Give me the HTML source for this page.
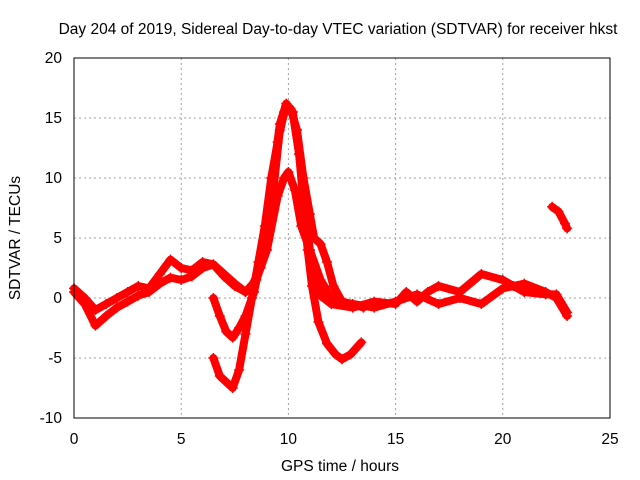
<!DOCTYPE html>
<html><head><meta charset="utf-8"><style>
body{margin:0;background:#fff}
svg{display:block;font-family:"Liberation Sans",sans-serif}
</style></head><body>
<svg id="chart" width="640" height="480">
<text x="338" y="34" font-size="15.5" text-anchor="middle">Day 204 of 2019, Sidereal Day-to-day VTEC variation (SDTVAR) for receiver hkst</text>
<text x="340" y="471" font-size="15.5" text-anchor="middle">GPS time / hours</text>
<text transform="translate(20,238) rotate(-90)" font-size="15.5" text-anchor="middle">SDTVAR / TECUs</text>
<g id="grid"></g>
<g id="ticks"></g>
<g id="series"></g>
<rect x="74" y="58" width="536" height="360" fill="none" stroke="#000" stroke-width="1"/>
</svg>
<script>
const xTicks=[0,5,10,15,20,25];
const yTicks=[-10,-5,0,5,10,15,20];
const track1=[[0,0.5],[0.5,-0.5],[1,-2.3],[1.5,-1.5],[2,-0.8],[2.5,-0.3],[3,0.2],[3.5,0.5],[4,1.2],[4.5,1.7],[5,1.5],[5.5,1.8],[6,2.5],[6.5,2.8],[7,2],[7.5,1.2],[8,0.5],[8.5,1.5],[9,4],[9.5,8.5],[9.8,10],[10,10.5],[10.3,9],[10.6,6],[11,4],[11.5,1.5],[12,0],[12.5,-0.5],[13,-0.5],[14,-0.8],[15,-0.3],[16,0.3],[17,-0.5],[18,0],[19,-0.5],[20,0.8],[21,1.2],[22,0.5],[22.5,0],[23,-1.5]];
const track2=[[0,0.8],[0.5,0],[1,-1],[1.5,-0.5],[2,0],[2.5,0.5],[3,1],[3.5,0.8],[4,2],[4.5,3.2],[5,2.5],[5.5,2.3],[6,3],[6.5,2.8],[7,1.8],[7.5,1],[8,0.5],[8.3,1],[8.7,2.5],[9,5],[9.3,9],[9.6,14],[9.9,16],[10.2,15.5],[10.5,12],[10.8,7],[11,4],[11.2,2],[11.5,0.2],[12,-0.5],[13,-0.8],[14,-0.3],[15,-0.5],[15.5,0.5],[16,-0.3],[16.5,0.5],[17,1],[18,0.5],[19,2],[20,1.5],[20.5,1],[21,0.5],[22,0.3],[22.5,0.3],[23,-1.2]];
const track3=[[6.5,0],[6.8,-1.5],[7.1,-2.8],[7.4,-3.3],[7.7,-2.5],[8,-1.5],[8.4,0.5],[8.8,4],[9.2,9],[9.6,14.5],[9.9,16.2],[10.2,15.5],[10.5,12],[10.7,8],[10.9,4],[11.1,1],[11.4,-2],[11.8,-3.8],[12.2,-4.7],[12.5,-5.1],[12.9,-4.7],[13.4,-3.7]];
const track4=[[6.5,-5],[6.8,-6.5],[7.1,-7],[7.4,-7.5],[7.7,-6],[8,-3],[8.3,0],[8.6,3],[8.9,6],[9.2,10],[9.5,13],[9.8,15.5],[10.1,15.8],[10.4,14],[10.7,10],[11,7],[11.2,5],[11.5,4.5],[11.8,3],[12.1,1],[12.5,-0.3],[13,-0.5],[13.5,-0.8]];
const track5=[[22.3,7.6],[22.6,7.2],[22.9,6.2],[23,5.8]];
const tracks=[track1,track2,track3,track4,track5];
const NS="http://www.w3.org/2000/svg";
const X=t=>74+t*536/25, Y=v=>418-(v+10)*12;
const grid=document.getElementById('grid'),ticks=document.getElementById('ticks'),ser=document.getElementById('series');
function mk(tag,attrs,parent){const e=document.createElementNS(NS,tag);for(const k in attrs)e.setAttribute(k,attrs[k]);parent.appendChild(e);return e;}
xTicks.forEach(t=>{
  if(t>0&&t<25){const g=mk('line',{x1:X(t),x2:X(t),y1:58,y2:418,stroke:'#a0a0a0','stroke-dasharray':'2,3'},grid);
  
  }
  const l=mk('text',{x:X(t),y:444,'font-size':15.5,'text-anchor':'middle'},ticks);l.textContent=t;
  
  
});
yTicks.forEach(v=>{
  if(v>-10&&v<20){const g=mk('line',{x1:74,x2:610,y1:Y(v),y2:Y(v),stroke:'#a0a0a0','stroke-dasharray':'2,3'},grid);
  
  }
  const l=mk('text',{x:62,y:Y(v)+5,'font-size':15.5,'text-anchor':'end'},ticks);l.textContent=v;
  
  
});
tracks.forEach((tr,i)=>{
  const p=mk('polyline',{points:tr.map(d=>X(d[0])+','+Y(d[1])).join(' '),fill:'none',stroke:'#f00','stroke-width':8,'stroke-linejoin':'round','stroke-linecap':'round'},ser);
  
  
  tr.forEach(d=>{
    const m=mk('path',{d:`M${X(d[0])-5},${Y(d[1])}h10M${X(d[0])},${Y(d[1])-5}v10`,stroke:'#f00','stroke-width':1.5},ser);
    
    
  });
});
</script>
</body></html>
